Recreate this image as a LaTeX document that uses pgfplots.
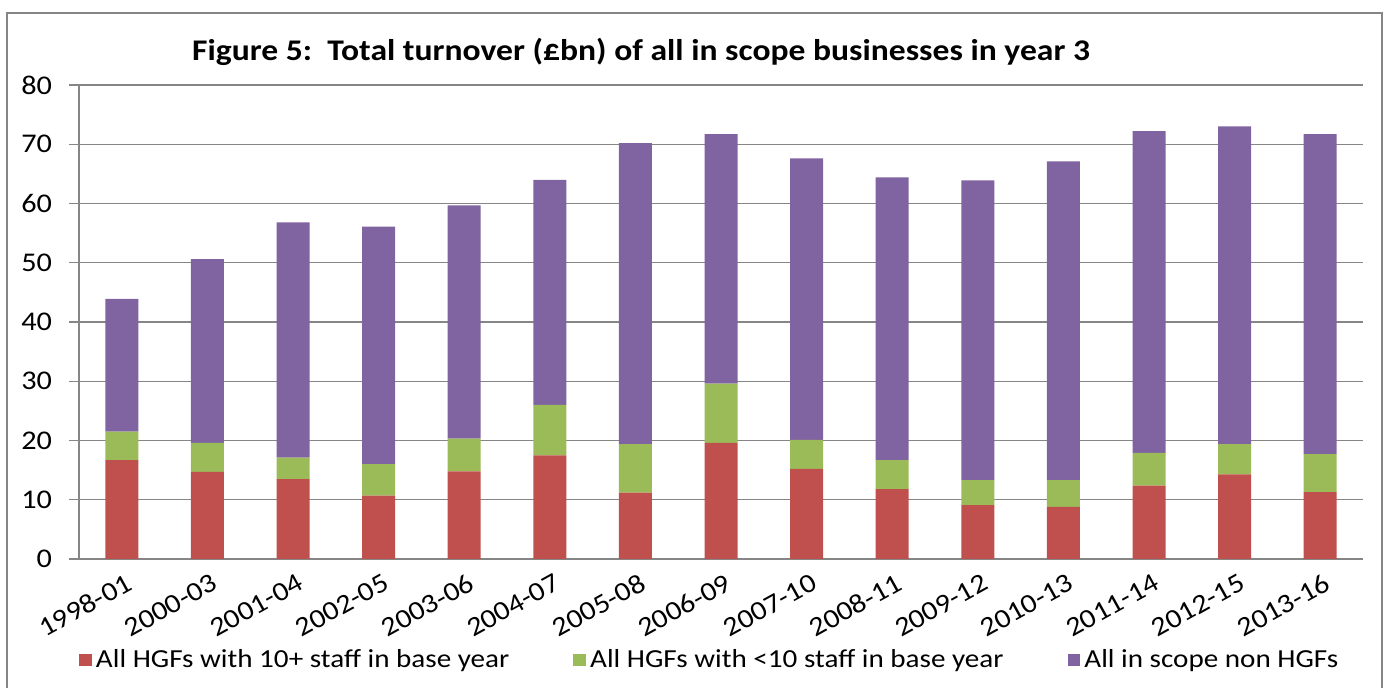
\documentclass[border=0pt]{standalone}
\usepackage{fontspec}
\setmainfont{Carlito}[FakeStretch=1.12]
\usepackage{pgfplots}
\pgfplotsset{compat=1.18}
\definecolor{cred}{HTML}{C0504D}
\definecolor{cgreen}{HTML}{9BBB59}
\definecolor{cpurple}{HTML}{8064A2}
\definecolor{cgrid}{RGB}{134,134,134}
\begin{document}
\begin{tikzpicture}
\useasboundingbox (0,0) rectangle (693.5pt,-344pt);
\draw[line width=1pt, cgrid] (3.5pt,-6.5pt) rectangle (691pt,-400pt);
\node[anchor=base, font=\fontsize{15}{18}\selectfont\bfseries] at (320.5pt,-30.5pt)
  {Figure 5:\ \ Total turnover (£bn) of all in scope businesses in year 3};
\begin{axis}[
  at={(39.5pt,-279.5pt)}, anchor=south west,
  scale only axis, width=642pt, height=237pt,
  ybar stacked, bar width=16.5pt,
  xmin=-0.5, xmax=14.5, ymin=0, ymax=80,
  ytick={0,10,...,80},
  xtick={0,...,14},
  xticklabels={1998-01,2000-03,2001-04,2002-05,2003-06,2004-07,2005-08,2006-09,2007-10,2008-11,2009-12,2010-13,2011-14,2012-15,2013-16},
  x tick style={draw=none},
  extra x ticks={-0.5,0.5,...,14.5},
  extra x tick labels={},
  extra x tick style={major tick length=4.5pt, tick align=outside, tick style={draw=cgrid, line width=0.6pt}},
  y tick style={draw=cgrid, line width=0.6pt},
  major tick length=5pt, tick align=outside,
  axis x line*=bottom, axis y line*=left,
  axis line style={cgrid, line width=0.6pt},
  ymajorgrids, grid style={cgrid, line width=0.6pt},
  /pgf/number format/assume math mode=true,
  tick label style={font=\fontsize{13.5}{15}\selectfont},
  yticklabel style={xshift=-5pt},
  xticklabel style={rotate=29, anchor=east, xshift=4pt, yshift=-7pt},
  legend columns=3,
  legend style={at={(0.492,-0.213)}, anchor=center, draw=none, fill=none,
    font=\fontsize{13}{15}\selectfont,
    /tikz/every even column/.append style={column sep=30pt}},
  legend image code/.code={\fill[#1] (0pt,-3.2pt) rectangle (6.4pt,3.2pt);},
  every axis plot/.append style={draw=none},
]
\addplot[fill=cred] coordinates {(0,16.7) (1,14.7) (2,13.5) (3,10.7) (4,14.8) (5,17.5) (6,11.2) (7,19.6) (8,15.2) (9,11.8) (10,9.1) (11,8.8) (12,12.4) (13,14.3) (14,11.3)};
\addplot[fill=cgreen] coordinates {(0,4.8) (1,4.9) (2,3.6) (3,5.3) (4,5.5) (5,8.5) (6,8.2) (7,10.0) (8,4.9) (9,4.9) (10,4.2) (11,4.5) (12,5.5) (13,5.1) (14,6.4)};
\addplot[fill=cpurple] coordinates {(0,22.4) (1,31.0) (2,39.7) (3,40.1) (4,39.4) (5,38.0) (6,50.8) (7,42.1) (8,47.5) (9,47.7) (10,50.6) (11,53.8) (12,54.3) (13,53.6) (14,54.0)};
\legend{All HGFs with 10+ staff in base year, All HGFs with <10 staff in base year, All in scope non HGFs}
\end{axis}
\end{tikzpicture}
\end{document}
